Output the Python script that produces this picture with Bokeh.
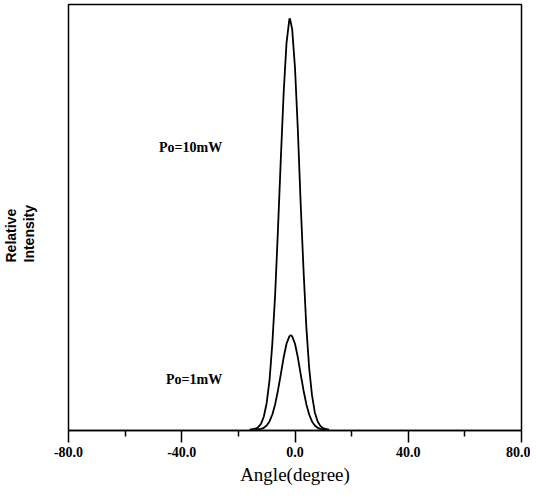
from bokeh.plotting import figure
from bokeh.models import FixedTicker, Range1d, Label, Title
from bokeh.embed import file_html
from bokeh.resources import INLINE

# Data
angle_10mw = [-16, -14, -13, -12, -11, -10, -9, -8, -7, -6, -5, -4, -3, -2, -1.8,
              -1, 0, 1, 2, 3, 4, 5, 6, 7, 8, 9, 10, 12]
intensity_10mw = [0.0003, 0.0023, 0.006, 0.014, 0.032, 0.065, 0.12, 0.21, 0.33, 0.49,
                  0.66, 0.82, 0.94, 0.998, 1.0, 0.974, 0.88, 0.73, 0.55, 0.39, 0.25,
                  0.15, 0.084, 0.042, 0.020, 0.0086, 0.0034, 0.0004]

angle_1mw = [-14, -12, -11, -10, -9, -8, -7, -6, -5, -4, -3, -2, -1.5, -1, 0, 1, 2,
             3, 4, 5, 6, 7, 8, 9, 11]
intensity_1mw = [0.0003, 0.002, 0.0046, 0.010, 0.020, 0.037, 0.062, 0.096, 0.135,
                 0.176, 0.209, 0.227, 0.230, 0.227, 0.209, 0.176, 0.135, 0.096, 0.062,
                 0.037, 0.020, 0.010, 0.0046, 0.002, 0.0003]

major_ticks = [-80, -40, 0, 40, 80]
minor_ticks = [-60, -20, 20, 60]
tick_labels = ["-80.0", "-40.0", "0.0", "40.0", "80.0"]

p = figure(width=530, height=495, output_backend="svg", toolbar_location=None,
           x_range=Range1d(-80, 80), y_range=Range1d(-0.002, 1.034),
           min_border_left=67, min_border_right=9, min_border_top=4, min_border_bottom=65)

p.line(angle_10mw, intensity_10mw, line_color="black", line_width=1.8)
p.line(angle_1mw, intensity_1mw, line_color="black", line_width=1.8)

p.grid.visible = False
p.yaxis.visible = False
p.outline_line_color = "black"
p.outline_line_width = 1.5
p.outline_line_alpha = 1.0

ax = p.xaxis[0]
ax.ticker = FixedTicker(ticks=major_ticks, minor_ticks=minor_ticks)
ax.major_label_overrides = {t: l for t, l in zip(major_ticks, tick_labels)}
ax.axis_line_color = "black"
ax.axis_line_width = 1.5
ax.major_tick_line_color = "black"
ax.major_tick_line_width = 1.5
ax.minor_tick_line_color = "black"
ax.minor_tick_line_width = 1.5
ax.major_tick_in = 0
ax.major_tick_out = 12
ax.minor_tick_in = 0
ax.minor_tick_out = 6
ax.major_label_text_font = "Liberation Serif"
ax.major_label_text_font_style = "bold"
ax.major_label_text_font_size = "14px"
ax.major_label_text_color = "black"
ax.major_label_standoff = 4
ax.axis_label = "Angle(degree)"
ax.axis_label_text_font = "Liberation Serif"
ax.axis_label_text_font_style = "normal"
ax.axis_label_text_font_size = "19px"
ax.axis_label_text_color = "black"
ax.axis_label_standoff = 4

for txt, yv in [("Po=10mW", 0.687), ("Po=1mW", 0.121)]:
    p.add_layout(Label(x=-25.7, y=yv, text=txt, text_align="right", text_baseline="middle",
                       text_font="Liberation Serif", text_font_style="bold",
                       text_font_size="14px", text_color="black"))

# left border: blank spacer nearest the frame, then the two rotated y-label lines
p.add_layout(Title(text=" ", standoff=14, text_font_size="14px"), "left")
p.add_layout(Title(text="Intensity", align="left", offset=168, standoff=0,
                   text_font="Liberation Sans", text_font_style="bold",
                   text_font_size="14px", text_color="black"), "left")
p.add_layout(Title(text="Relative", align="left", offset=168, standoff=0,
                   text_font="Liberation Sans", text_font_style="bold",
                   text_font_size="14px", text_color="black"), "left")

open("out.html", "w").write(file_html(p, INLINE))
